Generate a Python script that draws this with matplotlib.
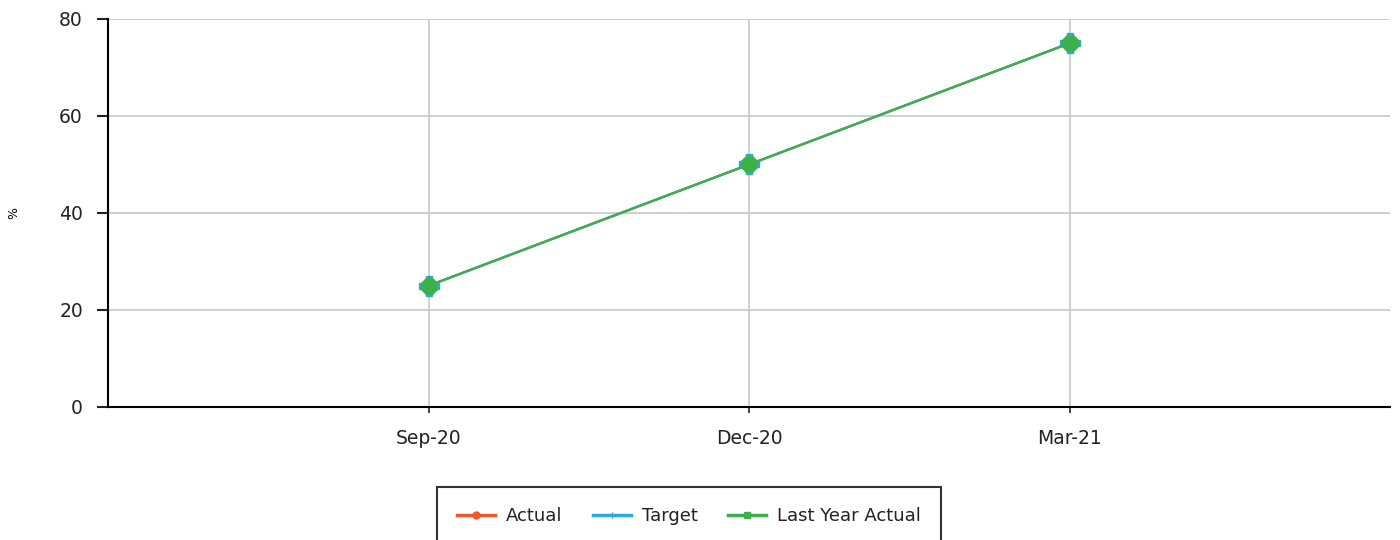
import matplotlib
matplotlib.use("Agg")
import matplotlib.pyplot as plt
from matplotlib.lines import Line2D

plt.rcParams['font.family'] = ['DejaVu Sans']

categories = ["Sep-20", "Dec-20", "Mar-21"]
actual = [25, 50, 75]
target = [25, 50, 75]
last_year_actual = [25, 50, 75]
y_ticks = [0, 20, 40, 60, 80]

fig = plt.figure(figsize=(14, 5.4), dpi=100)
ax = fig.add_axes([108/1400, 1 - 407/540, (1390-108)/1400, (407-19)/540])

x = list(range(len(categories)))
ax.plot(x, actual, color="#f0582a", marker="o", markersize=8, linewidth=1.6, zorder=3)
ax.plot(x, target, color="#29aae1", marker="P", markersize=14, linewidth=1.6, zorder=4)
ax.plot(x, last_year_actual, color="#3cb04a", marker="8", markersize=12, linewidth=1.6, zorder=5)

ax.set_xlim(-1, 3)
ax.set_ylim(0, 80)
ax.set_xticks(x)
ax.set_xticklabels(categories)
ax.set_yticks(y_ticks)
ax.grid(True, color="#c8c8c8", linewidth=1.2)
ax.set_axisbelow(True)
for s in ["top", "right"]:
    ax.spines[s].set_visible(False)
ax.spines["left"].set_linewidth(1.5)
ax.spines["bottom"].set_linewidth(1.5)
ax.tick_params(axis="y", length=8, width=1.5, labelsize=13.5, pad=10, colors="#222222")
ax.tick_params(axis="x", length=4, width=1.2, labelsize=13.5, pad=12, colors="#222222")
ax.set_ylabel("%", fontsize=9)
ax.yaxis.set_label_coords((20 - 108) / 1282, 0.5)

handles = [
    Line2D([0], [0], color="#f0582a", marker="o", markersize=5, linewidth=2.5),
    Line2D([0], [0], color="#29aae1", marker="+", markersize=5, linewidth=2.5),
    Line2D([0], [0], color="#3cb04a", marker="s", markersize=5, linewidth=2.5),
]
leg = fig.legend(handles, ["Actual", "Target", "Last Year Actual"], loc="upper left",
                 bbox_to_anchor=(437/1400, 1 - 487/540), borderaxespad=0, ncol=3, frameon=True,
                 fancybox=False, edgecolor="#000000", fontsize=13, handlelength=2.1,
                 columnspacing=1.7, borderpad=1.1, handletextpad=0.6)
leg.get_frame().set_linewidth(1.5)
for t in leg.get_texts():
    t.set_color("#222222")

fig.savefig("out.png", dpi=100)
